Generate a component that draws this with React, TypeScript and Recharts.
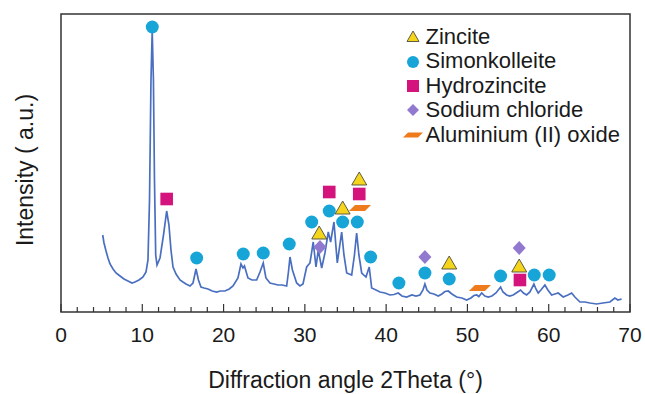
import React from "react";
import {
  ComposedChart,
  Line,
  Scatter,
  XAxis,
  YAxis,
  ReferenceArea,
  Legend,
} from "recharts";

// XRD scan (2theta in degrees, intensity in arbitrary units)
const scanTheta = [
  5.13, 5.29, 5.54, 5.78, 6.03, 6.4, 6.77, 7.26, 7.75, 8.24, 8.73, 9.1, 9.59, 10.09, 10.46, 10.7, 10.89,
  11.07, 11.22, 11.37, 11.5, 11.65,
  11.81, 12.18, 12.61, 13.0, 13.28, 13.53, 13.78, 14.15, 14.64, 15.0, 15.38, 15.87, 16.24, 16.61, 16.91, 17.22,
  17.6, 18.08, 18.6, 19.15, 19.6, 20.17, 20.7, 21.16, 21.77, 22.14, 22.39, 22.57, 23.0, 23.49, 24.07, 24.48,
  24.88, 25.21, 25.71, 26.2, 26.7, 27.2, 27.76, 27.98, 28.17, 28.47, 28.99, 29.4, 29.77, 30.22, 30.63, 31.03,
  31.37, 31.65, 32.07, 32.47, 32.88, 33.17, 33.58, 33.99, 34.53, 34.81, 35.15, 35.76, 36.1, 36.37, 36.65,
  36.99, 37.52, 37.92, 38.22, 38.75, 39.24, 39.85, 40.47, 40.96, 41.49, 41.94, 42.52, 43.17, 43.67, 44.16,
  44.53, 44.77, 45.02, 45.39, 45.88, 46.41, 46.86, 47.23, 47.64, 48.09, 48.67, 49.32, 49.9, 50.43, 50.8,
  51.13, 51.41, 51.75, 52.15, 52.56, 53.01, 53.51, 54.08, 54.37, 54.82, 55.2, 55.63, 56.09, 56.54, 56.89,
  57.28, 57.69, 58.18, 58.43, 58.71, 59.04, 59.53, 59.9, 60.36, 60.76, 61.17, 61.78, 62.36, 62.82, 63.22,
  63.84, 64.45, 65.07, 65.89, 66.67, 67.53, 68.14, 68.51, 68.97,
];
const scanCounts = [
  77, 69, 61, 54, 48, 43, 39, 36, 33, 31, 29, 30, 32, 35, 40, 52, 112,
  232, 281, 232, 132, 57,
  47, 54, 77, 101, 87, 62, 45, 38, 32, 30, 28, 26, 29, 43, 32, 25,
  24, 23, 21, 20, 21, 21, 23, 26, 34, 48, 44, 46, 34, 32, 32, 40,
  49, 34, 29, 28, 27, 27, 26, 40, 55, 42, 29, 26, 28, 45, 49, 70,
  45, 62, 44, 59, 80, 70, 90, 49, 80, 57, 39, 37, 57, 79, 57,
  39, 35, 45, 24, 22, 20, 19, 17, 17.5, 19, 16, 15, 17, 16, 17,
  22, 28, 22, 19, 18, 16, 18, 20.5, 21, 18, 15, 14, 12, 14, 16.5,
  17, 15.5, 19, 16, 15, 16, 19, 25, 20, 17, 16, 17, 19.5, 22, 19,
  17, 20, 28, 23, 19, 22, 27, 22, 17, 18, 19, 15, 17, 19, 15,
  10, 10, 9, 8, 9, 10, 14, 12, 13,
];

// phase markers
const zinciteTheta = [31.77, 34.65, 36.69, 47.76, 56.37];
const zinciteMark = [79, 104, 133, 49, 46];

const simonkolleiteTheta = [
  11.23, 16.69, 22.42, 24.88, 28.08, 30.84, 33.0, 34.65, 36.45, 38.09, 41.57, 44.77, 47.76, 54.08, 58.22, 60.06,
];
const simonkolleiteMark = [285, 54, 58, 59, 68, 90, 101, 90, 90, 55, 29, 39, 33, 36, 37, 37];

const hydrozinciteTheta = [13.0, 33.0, 36.69, 56.46];
const hydrozinciteMark = [113, 120, 118, 32];

const sodiumChlorideTheta = [31.86, 44.77, 56.37];
const sodiumChlorideMark = [65, 55, 64];

const aluminiumOxideTheta = [36.78, 51.54];
const aluminiumOxideMark = [104, 24];

const xTicks = [
  0, 2, 4, 6, 8, 10, 12, 14, 16, 18, 20, 22, 24, 26, 28, 30, 32, 34, 36, 38, 40, 42, 44, 46, 48, 50, 52, 54,
  56, 58, 60, 62, 64, 66, 68, 70,
];

const FONT = '"Liberation Sans", Arial, Helvetica, sans-serif';

const COLORS = {
  line: "#4a6fc0",
  zincite: "#f5d51c",
  simonkolleite: "#17a5d8",
  hydrozincite: "#d5137c",
  sodium: "#9179cf",
  aluminium: "#ee7b1c",
};

const toPoints = (xs: number[], ys: number[]) => xs.map((x, i) => ({ x, y: ys[i] }));

const scanData = toPoints(scanTheta, scanCounts);

const triangleShape = (props: any) => {
  const { cx, cy } = props;
  return (
    <polygon
      points={`${cx},${cy - 7} ${cx + 7.5},${cy + 6} ${cx - 7.5},${cy + 6}`}
      fill={COLORS.zincite}
      stroke="#4d4d3a"
      strokeWidth={0.9}
    />
  );
};
const circleShape = (props: any) => <circle cx={props.cx} cy={props.cy} r={6.5} fill={COLORS.simonkolleite} />;
const squareShape = (props: any) => (
  <rect x={props.cx - 6.3} y={props.cy - 6.3} width={12.6} height={12.6} fill={COLORS.hydrozincite} />
);
const diamondShape = (props: any) => {
  const { cx, cy } = props;
  return (
    <polygon points={`${cx},${cy - 7} ${cx + 6.5},${cy} ${cx},${cy + 7} ${cx - 6.5},${cy}`} fill={COLORS.sodium} />
  );
};
const slabShape = (props: any) => {
  const { cx, cy } = props;
  return (
    <polygon
      points={`${cx - 5},${cy - 3} ${cx + 11},${cy - 3} ${cx + 5},${cy + 3} ${cx - 11},${cy + 3}`}
      fill={COLORS.aluminium}
    />
  );
};

const renderTick = (props: any) => {
  const { x, y, payload } = props;
  const v = payload.value;
  const major = v % 10 === 0;
  return (
    <g>
      <line x1={x} x2={x} y1={y} y2={y - (major ? 8 : 5)} stroke="#333" strokeWidth={1.2} />
      {major && (
        <text x={x} y={y + 29.5} textAnchor="middle" fontSize={21} fill="#1a1a1a" fontFamily={FONT}>
          {v}
        </text>
      )}
    </g>
  );
};

// both axis titles are drawn here (the y one is rotated)
const renderAxisTitles = () => (
  <g>
    <text x={345.5} y={387.5} textAnchor="middle" fontSize={23} fill="#1a1a1a" fontFamily={FONT}>
      Diffraction angle 2Theta (°)
    </text>
    <text
      x={33}
      y={170}
      textAnchor="middle"
      fontSize={23}
      fill="#1a1a1a"
      fontFamily={FONT}
      transform="rotate(-90, 33, 170)"
    >
      Intensity ( a.u.)
    </text>
  </g>
);

const legendRows = [
  { name: "Zincite", icon: "tri" },
  { name: "Simonkolleite", icon: "circle" },
  { name: "Hydrozincite", icon: "square" },
  { name: "Sodium chloride", icon: "diamond" },
  { name: "Aluminium (II) oxide", icon: "slab" },
];

const LegendIcon = ({ kind }: { kind: string }) => {
  return (
    <svg width={18} height={18} style={{ display: "block", overflow: "visible" }}>
      {kind === "tri" && (
        <polygon points="9,3 15,13.5 3,13.5" fill={COLORS.zincite} stroke="#4d4d3a" strokeWidth={0.9} />
      )}
      {kind === "circle" && <circle cx={9} cy={9} r={6} fill={COLORS.simonkolleite} />}
      {kind === "square" && <rect x={3} y={3} width={12} height={12} fill={COLORS.hydrozincite} />}
      {kind === "diamond" && <polygon points="9,3 15,9 9,15 3,9" fill={COLORS.sodium} />}
      {kind === "slab" && <polygon points="4,6.5 19,6.5 14,11.5 -1,11.5" fill={COLORS.aluminium} />}
    </svg>
  );
};

const renderLegend = () => (
  <div style={{ fontFamily: FONT, fontSize: 22, color: "#1a1a1a" }}>
    {legendRows.map((r) => (
      <div key={r.name} style={{ display: "flex", alignItems: "center", height: 24.4, whiteSpace: "nowrap" }}>
        <LegendIcon kind={r.icon} />
        <span style={{ marginLeft: 4, lineHeight: "24.4px" }}>{r.name}</span>
      </div>
    ))}
  </div>
);

export default function App() {
  return (
    <div style={{ width: 645, height: 394, background: "#fff" }}>
      <style>{`body{margin:0;}`}</style>
      <ComposedChart width={645} height={394} margin={{ top: 14, right: 15, left: 61, bottom: 52 }}>
        <XAxis
          dataKey="x"
          type="number"
          domain={[0, 70]}
          ticks={xTicks}
          interval={0}
          allowDataOverflow
          axisLine={false}
          tickLine={false}
          tickSize={0}
          tickMargin={0}
          height={30}
          tick={renderTick}
          label={renderAxisTitles}
        />
        <YAxis
          dataKey="y"
          type="number"
          domain={[0, 298]}
          allowDataOverflow
          width={0}
          tick={false}
          tickLine={false}
          axisLine={false}
        />
        <ReferenceArea x1={0} x2={70} y1={0} y2={298} fill="none" stroke="#333" strokeWidth={1.5} />
        <Legend
          layout="vertical"
          align="center"
          verticalAlign="middle"
          content={renderLegend}
          wrapperStyle={{ left: 403.5, top: 25, width: 235, height: 125 }}
        />
        <Line
          data={scanData}
          dataKey="y"
          type="linear"
          dot={false}
          stroke={COLORS.line}
          strokeWidth={1.7}
          isAnimationActive={false}
          legendType="none"
        />
        <Scatter
          name="Simonkolleite"
          data={toPoints(simonkolleiteTheta, simonkolleiteMark)}
          dataKey="y"
          shape={circleShape}
          isAnimationActive={false}
        />
        <Scatter
          name="Hydrozincite"
          data={toPoints(hydrozinciteTheta, hydrozinciteMark)}
          dataKey="y"
          shape={squareShape}
          isAnimationActive={false}
        />
        <Scatter
          name="Sodium chloride"
          data={toPoints(sodiumChlorideTheta, sodiumChlorideMark)}
          dataKey="y"
          shape={diamondShape}
          isAnimationActive={false}
        />
        <Scatter
          name="Aluminium (II) oxide"
          data={toPoints(aluminiumOxideTheta, aluminiumOxideMark)}
          dataKey="y"
          shape={slabShape}
          isAnimationActive={false}
        />
        <Scatter
          name="Zincite"
          data={toPoints(zinciteTheta, zinciteMark)}
          dataKey="y"
          shape={triangleShape}
          isAnimationActive={false}
        />
      </ComposedChart>
    </div>
  );
}
